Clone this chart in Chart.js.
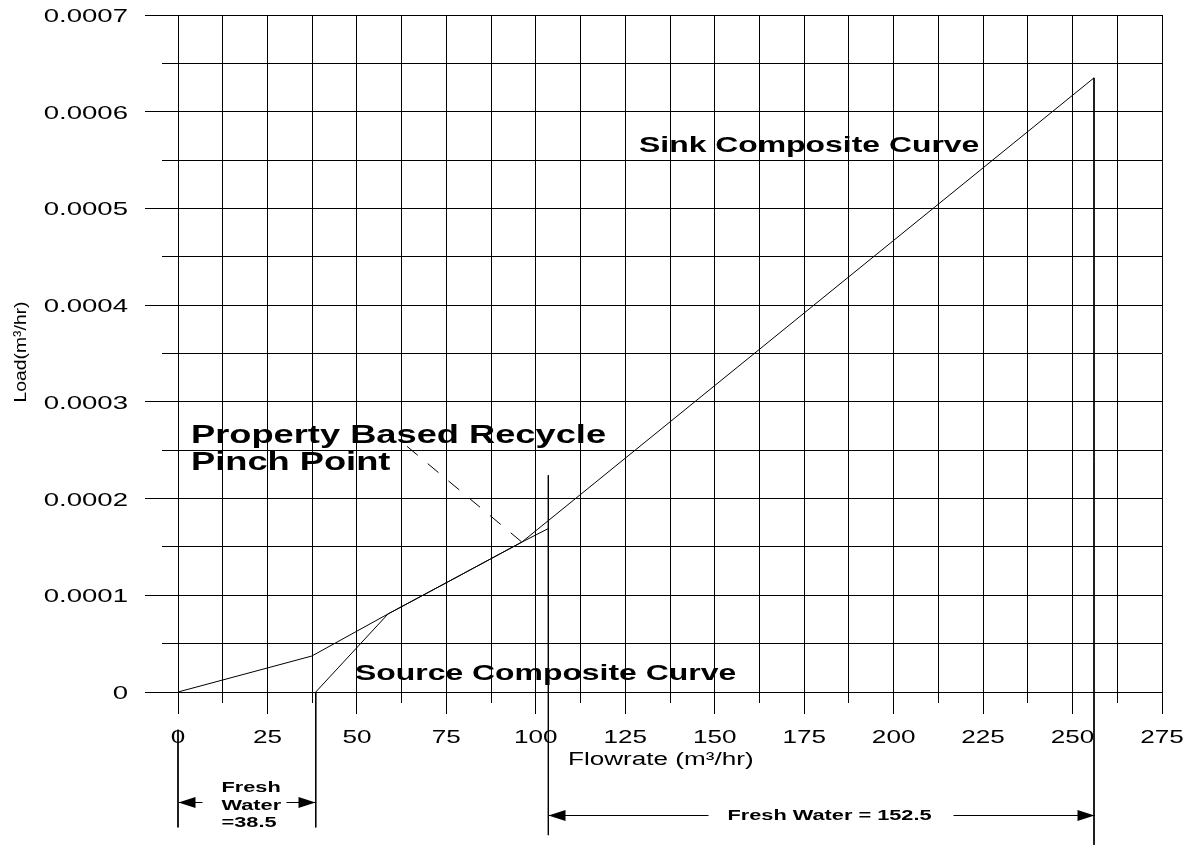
<!DOCTYPE html>
<html>
<head>
<meta charset="utf-8">
<title>Property based recycle pinch</title>
<script src="https://cdn.jsdelivr.net/npm/chart.js@4.4.1/dist/chart.umd.min.js"></script>
<style>
  html, body { margin: 0; padding: 0; background: #fff; }
  canvas { display: block; }
</style>
</head>
<body>
<canvas id="chart" width="1192" height="845"></canvas>
<script>
// composite curves: flowrate (m3/hr) vs load (m3/hr)
const sinkFlow = [0, 37.4, 58.7, 75, 96.1, 256];
const sinkLoad = [0, 0.0000372, 0.0000807, 0.000113, 0.000155, 0.000635];
const sourceFlow = [38.5, 58.7, 75, 96.1, 103.5];
const sourceLoad = [0, 0.0000807, 0.000113, 0.000155, 0.000169];

// dashed leader from the "pinch point" label down to the pinch
const leaderFlow = [64, 96.1];
const leaderLoad = [0.000254, 0.000155];

// vertical dimension lines, they run on below the x axis
const markerFlow = [0, 38.5, 103.5, 256];
const markerTop = [-0.000039, 0, 0.000224, 0.000635];
const markerBottom = [-0.00014, -0.00014, -0.000148, -0.000158];

const freshWaterLeft = ["Fresh", "Water", "=38.5"];
const freshWaterRight = "Fresh Water = 152.5";

const xTickLabels = ["0", "25", "50", "75", "100", "125", "150", "175", "200", "225", "250", "275"];
const yTickLabels = ["0", "0.0001", "0.0002", "0.0003", "0.0004", "0.0005", "0.0006", "0.0007"];

const FONT = "'Liberation Sans', Arial, sans-serif";
const SX = 1.45; // the source figure is stretched sideways, text included

const pts = (xs, ys) => xs.map((x, i) => ({ x, y: ys[i] }));

function line(data, extra) {
  return Object.assign({
    data,
    showLine: true,
    pointRadius: 0,
    borderColor: "#000",
    borderWidth: 1,
    tension: 0,
    fill: false,
    clip: false,
  }, extra || {});
}

function text(ctx, str, x, y, font, align) {
  ctx.save();
  ctx.font = font;
  ctx.fillStyle = "#000";
  ctx.textAlign = align || "left";
  ctx.textBaseline = "alphabetic";
  ctx.translate(x, y);
  ctx.scale(SX, 1);
  ctx.fillText(str, 0, 0);
  ctx.restore();
}

// same snapping Chart.js uses for 1px grid lines
const snap = (p) => Math.round(p - 0.5) + 0.5;

function seg(ctx, x1, y1, x2, y2) {
  ctx.beginPath();
  ctx.moveTo(x1, y1);
  ctx.lineTo(x2, y2);
  ctx.stroke();
}

function arrowHead(ctx, tipX, y, dir) {
  ctx.beginPath();
  ctx.moveTo(tipX, y);
  ctx.lineTo(tipX + dir * 17, y - 5.5);
  ctx.lineTo(tipX + dir * 17, y + 5.5);
  ctx.closePath();
  ctx.fill();
}

const decorations = {
  id: "decorations",
  afterDraw(chart) {
    const { ctx, chartArea: area } = chart;
    const xs = chart.scales.x, ys = chart.scales.y;
    ctx.save();
    ctx.strokeStyle = "#000";
    ctx.fillStyle = "#000";
    ctx.lineWidth = 1;

    // tick marks: long on labelled ticks, short in between
    xs.ticks.forEach((t, i) => {
      const px = snap(xs.getPixelForValue(t.value));
      seg(ctx, px, area.bottom, px, area.bottom + (i % 2 ? 11 : 22));
    });
    ys.ticks.forEach((t, i) => {
      const py = snap(ys.getPixelForValue(t.value));
      seg(ctx, area.left, py, area.left - (i % 2 ? 16 : 33), py);
    });

    // tick labels
    xs.ticks.forEach((t, i) => {
      if (i % 2) return;
      text(ctx, xTickLabels[i / 2], xs.getPixelForValue(t.value), area.bottom + 51, "18px " + FONT, "center");
    });
    ys.ticks.forEach((t, i) => {
      if (i % 2) return;
      text(ctx, yTickLabels[i / 2], area.left - 50, Math.round(ys.getPixelForValue(t.value) + 7), "19px " + FONT, "right");
    });

    // axis titles
    text(ctx, "Flowrate (m\u00b3/hr)", 568, area.bottom + 73, "18px " + FONT, "left");
    ctx.save();
    ctx.translate(21, 352);
    ctx.rotate(-Math.PI / 2);
    ctx.scale(1.21, 1.05);
    ctx.font = "16px " + FONT;
    ctx.textAlign = "center";
    ctx.textBaseline = "middle";
    ctx.fillText("Load(m\u00b3/hr)", 0, 0);
    ctx.restore();

    // curve labels
    text(ctx, "Sink Composite Curve", 639, 152, "bold 22px " + FONT);
    text(ctx, "Source Composite Curve", 355, 680, "bold 22px " + FONT);
    text(ctx, "Property Based Recycle", 191, 443, "bold 25px " + FONT);
    text(ctx, "Pinch Point", 191, 470, "bold 25px " + FONT);

    // fresh water dimension on the left
    const a0 = snap(xs.getPixelForValue(markerFlow[0]));
    const a1 = snap(xs.getPixelForValue(markerFlow[1]));
    const yl = 802.5;
    seg(ctx, a0, yl, a0 + 24, yl);
    seg(ctx, a1 - 29, yl, a1, yl);
    arrowHead(ctx, a0, yl, 1);
    arrowHead(ctx, a1, yl, -1);
    freshWaterLeft.forEach((s, i) => {
      text(ctx, s, a0 + 43, 792 + i * 17.5, "bold 15px " + FONT);
    });

    // fresh water dimension on the right
    const b0 = snap(xs.getPixelForValue(markerFlow[2]));
    const b1 = snap(xs.getPixelForValue(markerFlow[3]));
    const yr = 815.5;
    seg(ctx, b0, yr, b0 + 160, yr);
    seg(ctx, b1 - 141, yr, b1, yr);
    arrowHead(ctx, b0, yr, 1);
    arrowHead(ctx, b1, yr, -1);
    text(ctx, freshWaterRight, b0 + 179, 820, "bold 15px " + FONT);

    ctx.restore();
  },
};

const datasets = [
  line(pts(sinkFlow, sinkLoad)),
  line(pts(sourceFlow, sourceLoad)),
  line(pts(leaderFlow, leaderLoad), { borderDash: [14, 13] }),
  ...markerFlow.map((f, i) => line([{ x: f, y: markerTop[i] }, { x: f, y: markerBottom[i] }])),
];

const gridOpts = { color: "#000", lineWidth: 1, drawTicks: false };

new Chart(document.getElementById("chart"), {
  type: "scatter",
  data: { datasets },
  options: {
    responsive: false,
    animation: false,
    events: [],
    layout: { padding: { left: 178, right: 30, top: 15, bottom: 153 } },
    plugins: { legend: { display: false }, tooltip: { enabled: false } },
    scales: {
      x: {
        type: "linear",
        min: 0,
        max: 275,
        ticks: { display: false, stepSize: 12.5, maxTicksLimit: 100 },
        grid: gridOpts,
        border: { display: false },
      },
      y: {
        type: "linear",
        min: 0,
        max: 0.0007,
        ticks: { display: false, stepSize: 0.00005, maxTicksLimit: 100 },
        grid: gridOpts,
        border: { display: false },
      },
    },
  },
  plugins: [decorations],
});
</script>
</body>
</html>
